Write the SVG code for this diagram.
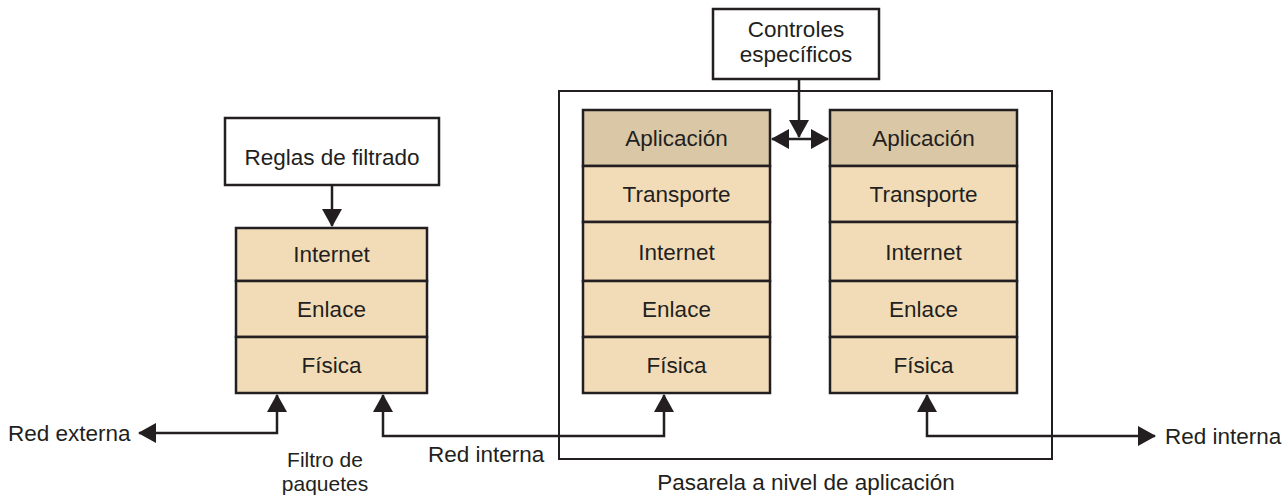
<svg xmlns="http://www.w3.org/2000/svg" width="1283" height="497" viewBox="0 0 1283 497">
<style>
  text { font-family: "Liberation Sans", Arial, sans-serif; font-size: 22.5px; fill: #231f20; }
  .c { text-anchor: middle; }
  .sm { font-size: 21px; }
  .app { fill: #d9c7a6; stroke: #231f20; stroke-width: 2.5; }
  .layer { fill: #f2dcb8; stroke: #231f20; stroke-width: 2.5; }
  .box { fill: #ffffff; stroke: #231f20; stroke-width: 2.5; }
  .outer { fill: none; stroke: #231f20; stroke-width: 2; }
  .wire { fill: none; stroke: #231f20; stroke-width: 2.5; }
</style>
<defs>
  <marker id="ah" viewBox="0 0 18 20" refX="17" refY="10" markerWidth="18" markerHeight="20" markerUnits="userSpaceOnUse" orient="auto-start-reverse">
    <path d="M0,0 L18,10 L0,20 z" fill="#231f20"/>
  </marker>
</defs>

<g id="gateway">
  <rect class="outer" x="559" y="91" width="493" height="368"/>
  <text class="c" x="806" y="490">Pasarela a nivel de aplicación</text>
</g>

<g id="reglas">
  <rect class="box" x="225" y="118" width="214" height="67"/>
  <text class="c" x="332" y="165">Reglas de filtrado</text>
</g>

<g id="controles">
  <rect class="box" x="713" y="9" width="166" height="70"/>
  <text class="c" x="796" y="37">Controles</text>
  <text class="c" x="796" y="62">específicos</text>
</g>

<g id="filtro">
  <rect class="layer" x="236" y="228" width="191" height="53"/>
  <rect class="layer" x="236" y="281" width="191" height="56"/>
  <rect class="layer" x="236" y="337" width="191" height="56"/>
  <text class="c" x="331.5" y="262">Internet</text>
  <text class="c" x="331.5" y="317">Enlace</text>
  <text class="c" x="331.5" y="373">Física</text>
  <text class="c sm" x="325" y="467">Filtro de</text>
  <text class="c sm" x="325" y="491">paquetes</text>
</g>

<g id="pila-izq">
  <rect class="app" x="583" y="110" width="187" height="56"/>
  <rect class="layer" x="583" y="166" width="187" height="56"/>
  <rect class="layer" x="583" y="222" width="187" height="59"/>
  <rect class="layer" x="583" y="281" width="187" height="56"/>
  <rect class="layer" x="583" y="337" width="187" height="56"/>
  <text class="c" x="676.5" y="146">Aplicación</text>
  <text class="c" x="676.5" y="202">Transporte</text>
  <text class="c" x="676.5" y="260">Internet</text>
  <text class="c" x="676.5" y="317">Enlace</text>
  <text class="c" x="676.5" y="373">Física</text>
</g>

<g id="pila-der">
  <rect class="app" x="830" y="110" width="187" height="56"/>
  <rect class="layer" x="830" y="166" width="187" height="56"/>
  <rect class="layer" x="830" y="222" width="187" height="59"/>
  <rect class="layer" x="830" y="281" width="187" height="56"/>
  <rect class="layer" x="830" y="337" width="187" height="56"/>
  <text class="c" x="923.5" y="146">Aplicación</text>
  <text class="c" x="923.5" y="202">Transporte</text>
  <text class="c" x="923.5" y="260">Internet</text>
  <text class="c" x="923.5" y="317">Enlace</text>
  <text class="c" x="923.5" y="373">Física</text>
</g>

<g id="labels">
  <text x="8" y="441">Red externa</text>
  <text x="428" y="462">Red interna</text>
  <text x="1165" y="444">Red interna</text>
</g>

<g id="connectors">
  <path class="wire" d="M332,185 V226" marker-end="url(#ah)"/>
  <path class="wire" d="M799,79 V137" marker-end="url(#ah)"/>
  <path class="wire" d="M772,139 H828" marker-start="url(#ah)" marker-end="url(#ah)"/>
  <path class="wire" d="M139,433 H277 V395" marker-start="url(#ah)" marker-end="url(#ah)"/>
  <path class="wire" d="M383,395 V436 H664 V395" marker-start="url(#ah)" marker-end="url(#ah)"/>
  <path class="wire" d="M927,395 V436 H1155" marker-start="url(#ah)" marker-end="url(#ah)"/>
</g>
</svg>
